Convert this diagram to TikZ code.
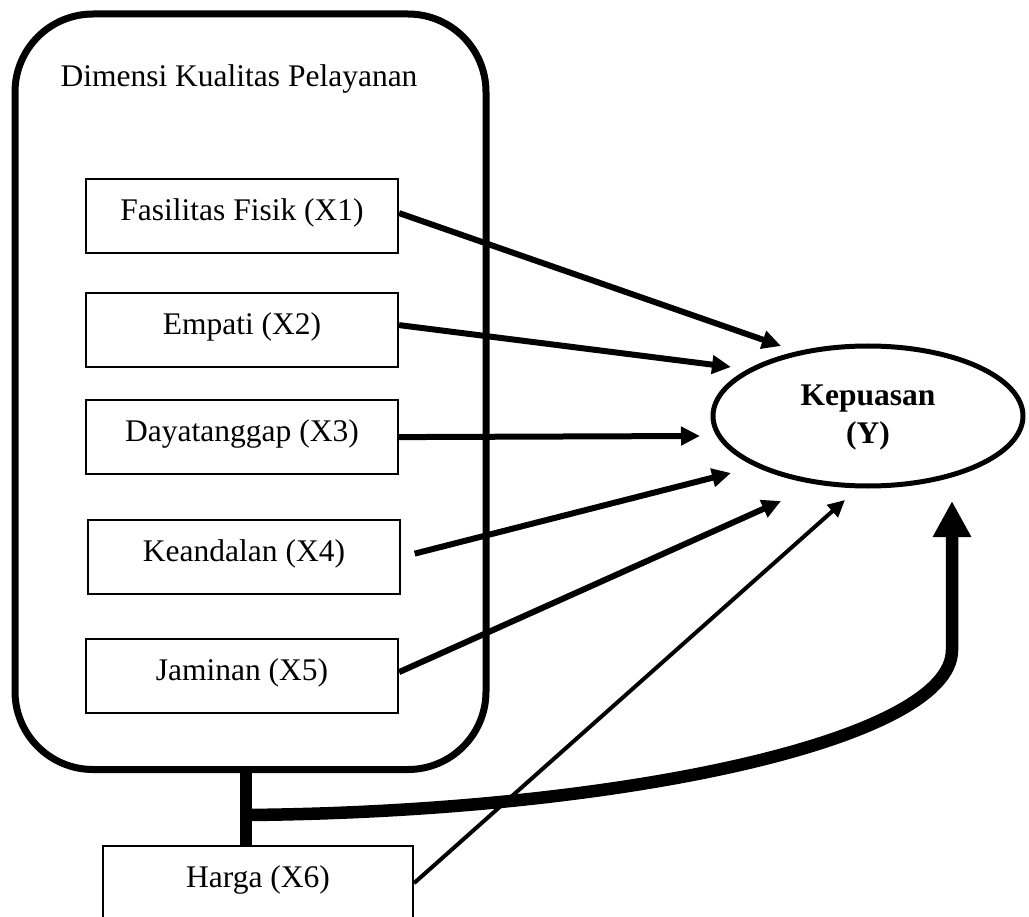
\documentclass[tikz,border=0pt]{standalone}
\usepackage{fontspec}
\setmainfont{Liberation Serif}
\usetikzlibrary{arrows.meta,shapes.geometric}
\begin{document}
\begin{tikzpicture}[x=1pt,y=-1pt,
  txt/.style={font=\fontsize{31.5}{38}\selectfont},
  varbox/.style={txt, draw, line width=2.2pt, minimum width=312pt, inner xsep=0pt, inner ysep=0pt, text height=41pt, text depth=33pt, anchor=north},
  arr/.style={line width=6pt, -{Triangle[length=19pt,width=18pt]}},
  thinarr/.style={line width=4pt, -{Triangle[length=17pt,width=16pt]}},
  boldarr/.style={line width=12.5pt, -{Triangle[length=36pt,width=36pt]}},
]
\useasboundingbox (0,0) rectangle (1029,917);
\node[draw, line width=7pt, rounded corners=78pt, minimum width=471pt, minimum height=755.5pt, inner sep=0pt] (dim) at (250.5,391.75) {};
\node[txt, anchor=base west] (dimlabel) at (57,87) {Dimensi Kualitas Pelayanan};
\node[varbox] (x1) at (242,178) {Fasilitas Fisik (X1)};
\node[varbox] (x2) at (242,292) {Empati (X2)};
\node[varbox] (x3) at (242,399) {Dayatanggap (X3)};
\node[varbox] (x4) at (244,519) {Keandalan (X4)};
\node[varbox] (x5) at (242,638) {Jaminan (X5)};
\node[varbox, minimum width=310pt] (x6) at (258,845) {Harga (X6)};
\node[ellipse, draw, line width=5pt, minimum width=310pt, minimum height=140pt, inner sep=0pt,
  font=\fontsize{31.5}{38}\selectfont\bfseries, align=center, text height=60pt, text depth=6pt] (y) at (868,416) {Kepuasan\\(Y)};
\coordinate (t1) at (781,346);
\coordinate (t2) at (731,367);
\coordinate (t3) at (700,436);
\coordinate (t4) at (731,473);
\coordinate (t5) at (781,501);
\coordinate (t6) at (845,500);
\coordinate (t7) at (952,501);
\coordinate (j) at (246,815);
\draw[arr] ([yshift=3pt]x1.east) -- (t1);
\draw[arr] ([yshift=5pt]x2.east) -- (t2);
\draw[arr] (x3.east) -- (t3);
\draw[arr, shorten <=14pt] (x4.east) -- (t4);
\draw[arr] ([yshift=4pt]x5.east) -- (t5);
\draw[thinarr] (x6.east) -- (t6);
\draw[line width=12pt] (dim.south -| j) -- (x6.north -| j);
\draw[boldarr] (j) .. controls (620,812) and (952,740) .. (952,650) -- (t7);
\end{tikzpicture}
\end{document}
